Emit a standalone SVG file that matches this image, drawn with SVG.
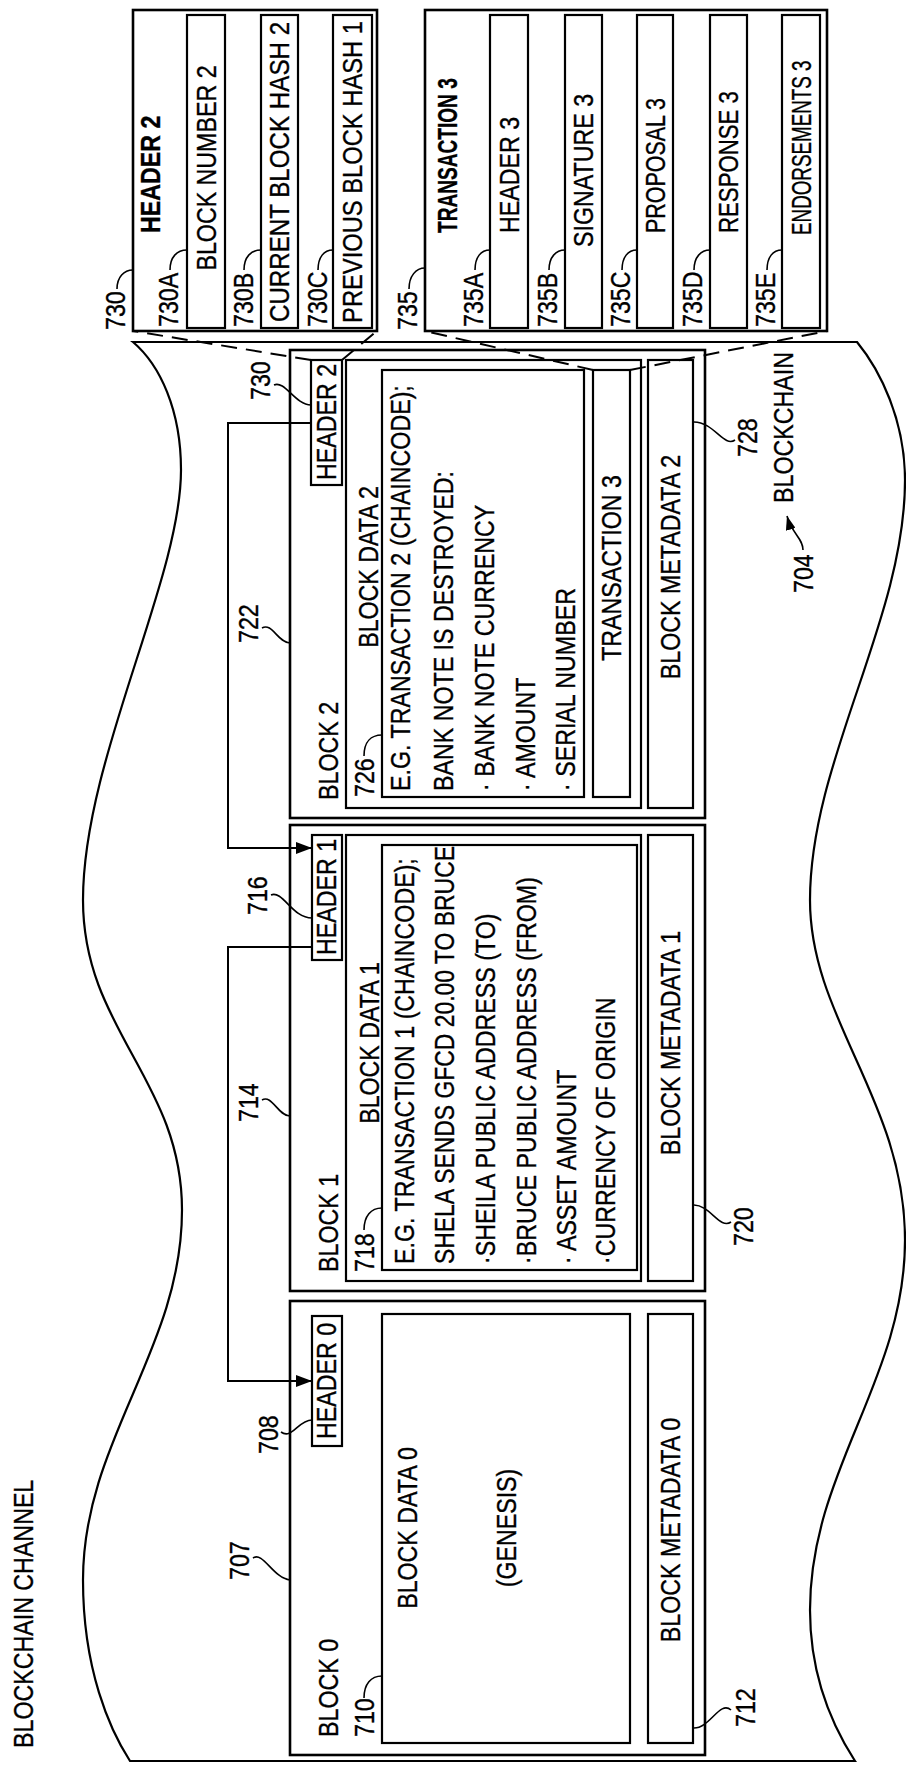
<svg xmlns="http://www.w3.org/2000/svg" width="906" height="1765" viewBox="0 0 906 1765">
<defs>
<style>
.s{fill:none;stroke:#000;stroke-width:2.2}
.o{fill:none;stroke:#000;stroke-width:2.6}
.l{fill:none;stroke:#000;stroke-width:1.6}
.d{fill:none;stroke:#000;stroke-width:2;stroke-dasharray:16 9}
.c{fill:none;stroke:#000;stroke-width:2}
text{font-family:"Liberation Sans",Arial,sans-serif;font-size:27px;fill:#000;stroke:#000;stroke-width:0.35}
.m{text-anchor:middle}
.b{font-weight:bold}
</style>
<marker id="ah" viewBox="0 0 16 12" refX="16" refY="6" markerWidth="16" markerHeight="12" markerUnits="userSpaceOnUse" orient="auto"><path d="M0,0 L16,6 L0,12 Z" fill="#000"/></marker>
<marker id="ah2" viewBox="0 0 14 10" refX="14" refY="5" markerWidth="14" markerHeight="10" markerUnits="userSpaceOnUse" orient="auto"><path d="M0,0 L14,5 L0,10 Z" fill="#000"/></marker>
</defs>
<rect width="906" height="1765" fill="#fff"/>

<g id="channel">
<path class="s" d="M133,342 L857,342 C880,370 905,420 905,480 C905,620 810,760 810,900 C810,1020 905,1100 905,1240 C905,1380 810,1470 810,1610 C810,1680 835,1730 855,1761 L130,1761 C110,1730 83,1670 83,1580 C83,1440 182,1350 182,1210 C182,1080 83,1030 83,900 C83,760 181,580 181,470 C181,410 160,365 133,342 Z"/>
<text transform="translate(33,1748) rotate(-90) scale(.86,1)">BLOCKCHAIN CHANNEL</text>
<text transform="translate(793,503) rotate(-90) scale(.86,1)">BLOCKCHAIN</text>
<text transform="translate(813,593) rotate(-90) scale(.86,1)">704</text>
<path class="l" d="M803,550 C803,538 792,534 787,516" marker-end="url(#ah2)"/>
</g>

<g id="block0">
<rect class="o" x="290" y="1301" width="415" height="454"/>
<rect class="s" x="312" y="1316" width="30" height="130"/>
<text class="m" transform="translate(336,1381) rotate(-90) scale(.86,1)">HEADER 0</text>
<rect class="s" x="382" y="1314" width="248" height="429"/>
<rect class="s" x="648" y="1314" width="45" height="429"/>
<text transform="translate(338,1737) rotate(-90) scale(.86,1)">BLOCK 0</text>
<text transform="translate(374,1737) rotate(-90) scale(.86,1)">710</text>
<path class="l" d="M364,1698 C364,1684 371,1676 382,1676"/>
<text class="m" transform="translate(417,1528) rotate(-90) scale(.86,1)">BLOCK DATA 0</text>
<text class="m" transform="translate(516,1528) rotate(-90) scale(.86,1)">(GENESIS)</text>
<text class="m" transform="translate(680,1530) rotate(-90) scale(.86,1)">BLOCK METADATA 0</text>
<text transform="translate(249,1580) rotate(-90) scale(.86,1)">707</text>
<path class="l" d="M253,1558 C263,1551 273,1578 290,1580"/>
<text transform="translate(278,1454) rotate(-90) scale(.86,1)">708</text>
<path class="l" d="M281,1432 C292,1440 298,1420 312,1420"/>
<text transform="translate(755,1727) rotate(-90) scale(.86,1)">712</text>
<path class="l" d="M731,1710 C720,1700 710,1728 694,1728"/>
</g>

<g id="block1">
<rect class="o" x="290" y="825" width="415" height="466"/>
<rect class="s" x="312" y="835" width="30" height="125"/>
<text class="m" transform="translate(336,897) rotate(-90) scale(.86,1)">HEADER 1</text>
<rect class="s" x="346" y="835" width="295" height="446"/>
<rect class="s" x="382" y="845" width="255" height="425"/>
<rect class="s" x="648" y="835" width="45" height="446"/>
<text transform="translate(338,1272) rotate(-90) scale(.86,1)">BLOCK 1</text>
<text transform="translate(374,1272) rotate(-90) scale(.86,1)">718</text>
<path class="l" d="M364,1230 C364,1216 371,1208 382,1208"/>
<text class="m" transform="translate(379,1043) rotate(-90) scale(.86,1)">BLOCK DATA 1</text>
<text transform="translate(414,1264) rotate(-90) scale(.86,1)">E.G. TRANSACTION 1 (CHAINCODE);</text>
<text transform="translate(454,1264) rotate(-90) scale(.86,1)" textLength="486" lengthAdjust="spacingAndGlyphs">SHELA SENDS GFCD 20.00 TO BRUCE</text>
<text transform="translate(495,1264) rotate(-90) scale(.86,1)">·SHEILA PUBLIC ADDRESS (TO)</text>
<text transform="translate(536,1264) rotate(-90) scale(.86,1)">·BRUCE PUBLIC ADDRESS (FROM)</text>
<text transform="translate(576,1264) rotate(-90) scale(.86,1)">· ASSET AMOUNT</text>
<text transform="translate(615,1264) rotate(-90) scale(.86,1)">·CURRENCY OF ORIGIN</text>
<text class="m" transform="translate(680,1043) rotate(-90) scale(.86,1)">BLOCK METADATA 1</text>
<text transform="translate(258,1122) rotate(-90) scale(.86,1)">714</text>
<path class="l" d="M262,1100 C272,1094 278,1116 290,1116"/>
<text transform="translate(267,915) rotate(-90) scale(.86,1)">716</text>
<path class="l" d="M271,895 C283,890 292,918 312,918"/>
<text transform="translate(753,1246) rotate(-90) scale(.86,1)">720</text>
<path class="l" d="M731,1222 C720,1230 710,1205 694,1205"/>
</g>

<g id="block2">
<rect class="o" x="290" y="350" width="415" height="468"/>
<rect class="s" x="311" y="360" width="31" height="125"/>
<text class="m" transform="translate(336,422) rotate(-90) scale(.86,1)">HEADER 2</text>
<rect class="s" x="346" y="360" width="295" height="448"/>
<rect class="s" x="382" y="370" width="202" height="427"/>
<rect class="s" x="593" y="370" width="37" height="427"/>
<rect class="s" x="648" y="360" width="45" height="448"/>
<text transform="translate(338,800) rotate(-90) scale(.86,1)">BLOCK 2</text>
<text transform="translate(374,797) rotate(-90) scale(.86,1)">726</text>
<path class="l" d="M364,756 C364,742 371,735 382,735"/>
<text class="m" transform="translate(378,567) rotate(-90) scale(.86,1)">BLOCK DATA 2</text>
<text transform="translate(410,791) rotate(-90) scale(.86,1)">E.G. TRANSACTION 2 (CHAINCODE);</text>
<text transform="translate(453,791) rotate(-90) scale(.86,1)">BANK NOTE IS DESTROYED:</text>
<text transform="translate(494,791) rotate(-90) scale(.86,1)">· BANK NOTE CURRENCY</text>
<text transform="translate(535,791) rotate(-90) scale(.86,1)">· AMOUNT</text>
<text transform="translate(575,791) rotate(-90) scale(.86,1)">· SERIAL NUMBER</text>
<text class="m" transform="translate(621,568) rotate(-90) scale(.86,1)">TRANSACTION 3</text>
<text class="m" transform="translate(680,567) rotate(-90) scale(.86,1)">BLOCK METADATA 2</text>
<text transform="translate(258,643) rotate(-90) scale(.86,1)">722</text>
<path class="l" d="M262,628 C272,622 278,643 290,643"/>
<text transform="translate(270,400) rotate(-90) scale(.86,1)">730</text>
<path class="l" d="M274,385 C285,380 295,405 311,405"/>
<text transform="translate(757,457) rotate(-90) scale(.86,1)">728</text>
<path class="l" d="M735,440 C724,448 714,422 694,422"/>
</g>

<g id="header2-detail">
<rect class="o" x="133" y="10" width="244" height="321"/>
<text transform="translate(125,330) rotate(-90) scale(.86,1)">730</text>
<path class="l" d="M117,289 C117,277 124,270 133,270"/>
<text class="b" transform="translate(160,233) rotate(-90) scale(.86,1)">HEADER 2</text>
<rect class="s" x="187" y="15" width="38" height="313"/>
<text transform="translate(178,327) rotate(-90) scale(.86,1)">730A</text>
<path class="l" d="M170,270 C170,257 177,250 187,250"/>
<text class="m" transform="translate(215.5,168) rotate(-90) scale(.86,1)">BLOCK NUMBER 2</text>
<rect class="s" x="261" y="15" width="37" height="313"/>
<text transform="translate(253,327) rotate(-90) scale(.86,1)">730B</text>
<path class="l" d="M244,270 C244,257 251,250 261,250"/>
<text class="m" transform="translate(289,172) rotate(-90) scale(.86,1)" textLength="349" lengthAdjust="spacingAndGlyphs">CURRENT BLOCK HASH 2</text>
<rect class="s" x="333" y="15" width="39" height="313"/>
<text transform="translate(327,327) rotate(-90) scale(.86,1)">730C</text>
<path class="l" d="M318,270 C318,257 324,250 333,250"/>
<text class="m" transform="translate(362,172) rotate(-90) scale(.86,1)" textLength="351" lengthAdjust="spacingAndGlyphs">PREVIOUS BLOCK HASH 1</text>
</g>

<g id="transaction3-detail">
<rect class="o" x="425" y="10" width="402" height="321"/>
<text transform="translate(417,330) rotate(-90) scale(.86,1)">735</text>
<path class="l" d="M409,289 C409,276 416,268 425,268"/>
<text class="b" transform="translate(457,233) rotate(-90) scale(.86,1)" textLength="180" lengthAdjust="spacingAndGlyphs">TRANSACTION 3</text>
<rect class="s" x="490" y="15" width="38" height="313"/>
<text transform="translate(483,327) rotate(-90) scale(.86,1)">735A</text>
<path class="l" d="M475,270 C475,257 481,250 490,250"/>
<text transform="translate(518.5,233) rotate(-90) scale(.86,1)">HEADER 3</text>
<rect class="s" x="565" y="15" width="37" height="313"/>
<text transform="translate(557,327) rotate(-90) scale(.86,1)">735B</text>
<path class="l" d="M549,270 C549,257 556,250 565,250"/>
<text transform="translate(593,247) rotate(-90) scale(.86,1)">SIGNATURE 3</text>
<rect class="s" x="637" y="15" width="36" height="313"/>
<text transform="translate(630,327) rotate(-90) scale(.86,1)">735C</text>
<path class="l" d="M622,270 C622,257 628,250 637,250"/>
<text transform="translate(664.5,233) rotate(-90) scale(.86,1)" textLength="157" lengthAdjust="spacingAndGlyphs">PROPOSAL 3</text>
<rect class="s" x="710" y="15" width="37" height="313"/>
<text transform="translate(702,327) rotate(-90) scale(.86,1)">735D</text>
<path class="l" d="M694,270 C694,257 701,250 710,250"/>
<text transform="translate(738,233) rotate(-90) scale(.86,1)" textLength="165" lengthAdjust="spacingAndGlyphs">RESPONSE 3</text>
<rect class="s" x="782" y="15" width="38" height="313"/>
<text transform="translate(775,327) rotate(-90) scale(.86,1)">735E</text>
<path class="l" d="M767,270 C767,257 773,250 782,250"/>
<text transform="translate(810.5,235) rotate(-90) scale(.86,1)" textLength="203" lengthAdjust="spacingAndGlyphs">ENDORSEMENTS 3</text>
</g>

<g id="connectors">
<path class="c" d="M311,423 H228 V848 H312" marker-end="url(#ah)"/>
<path class="c" d="M312,947 H228 V1381 H312" marker-end="url(#ah)"/>
<path class="d" d="M311,360 L133,331"/>
<path class="d" d="M342,360 L377,331"/>
<path class="d" d="M593,370 L425,331"/>
<path class="d" d="M630,370 L827,331"/>
</g>
</svg>
